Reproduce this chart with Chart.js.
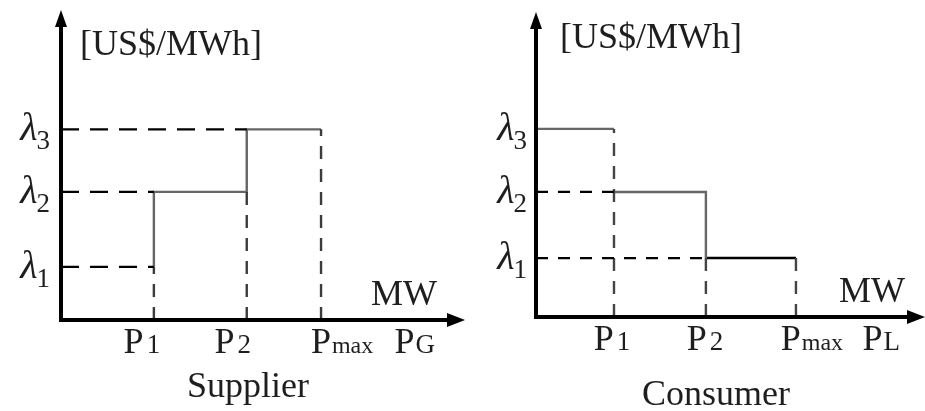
<!DOCTYPE html>
<html><head><meta charset="utf-8">
<script src="https://cdn.jsdelivr.net/npm/chart.js@4"></script>
<style>
html,body{margin:0;padding:0;background:#fff;width:925px;height:411px;overflow:hidden;position:relative}
canvas{position:absolute;top:0}
#c1{left:0}
#c2{left:460px}
</style></head><body>
<canvas id="c1" width="470" height="411"></canvas>
<canvas id="c2" width="465" height="411"></canvas>
<script>
// ---- data (relative units) ----
const supplierQuantities = [1.0, 2.0, 2.8];     // P1, P2, Pmax
const supplierPrices     = [10.3, 24.8, 36.9];  // λ1, λ2, λ3
const consumerQuantities = [0.84, 1.83, 2.8];   // P1, P2, Pmax
const consumerPrices     = [11.6, 24.6, 37.0];  // λ1, λ2, λ3
const quantityTickLabels = ['P_1', 'P_2', 'P_max'];
const priceTickLabels    = ['λ_1', 'λ_2', 'λ_3'];
const supplierAxisName = 'P_G';
const consumerAxisName = 'P_L';
const priceUnit = '[US$/MWh]';
const quantityUnit = 'MW';
const supplierTitle = 'Supplier';
const consumerTitle = 'Consumer';
const supplierXMax = 4.35, consumerXMax = 4.19, priceMax = 60;

const GAP = (x) => ({x: x, y: null});
const pt = (x, y) => ({x, y});

function drawSubText(ctx, label, x, y, align, f) {
  const parts = label.split('_');
  const base = parts[0], sub = parts[1];
  ctx.font = f.main; const wb = ctx.measureText(base).width;
  let ws = 0;
  if (sub) { ctx.font = f.sub; ws = ctx.measureText(sub).width; }
  const gap = sub ? f.gap : 0;
  const total = wb + gap + ws;
  const x0 = align === 'center' ? x - total / 2 : (align === 'right' ? x - total : x);
  ctx.textAlign = 'left'; ctx.textBaseline = 'alphabetic';
  ctx.font = f.main; ctx.fillText(base, x0, y);
  if (sub) { ctx.font = f.sub; ctx.fillText(sub, x0 + wb + gap, y + f.dy); }
}

const diagramPlugin = {
  id: 'diagram',
  afterDatasetsDraw(chart, args, o) {
    const ctx = chart.ctx, a = chart.chartArea;
    const xs = chart.scales.x, ys = chart.scales.y;
    ctx.save();
    // axes with arrows
    ctx.strokeStyle = '#000'; ctx.fillStyle = '#000'; ctx.lineWidth = 4;
    ctx.beginPath();
    ctx.moveTo(a.left, a.top + 8); ctx.lineTo(a.left, a.bottom);
    ctx.lineTo(a.right - 8, a.bottom);
    ctx.stroke();
    ctx.beginPath();
    ctx.moveTo(a.left, a.top); ctx.lineTo(a.left - 6, a.top + 17); ctx.lineTo(a.left + 6, a.top + 17); ctx.closePath(); ctx.fill();
    ctx.beginPath();
    ctx.moveTo(a.right, a.bottom); ctx.lineTo(a.right - 18, a.bottom - 7); ctx.lineTo(a.right - 18, a.bottom + 7); ctx.closePath(); ctx.fill();

    ctx.fillStyle = '#1e1e1e';
    const fx = {main: '36px "Liberation Serif"', sub: '27px "Liberation Serif"', gap: 3, dy: 0};
    const fxm = {main: '36px "Liberation Serif"', sub: '24px "Liberation Serif"', gap: 1, dy: 0};
    o.xValues.forEach((v, i) => {
      const lab = o.xLabels[i];
      drawSubText(ctx, lab, xs.getPixelForValue(v) + o.xOffsets[i], a.bottom + 33, 'center', lab.indexOf('max') >= 0 ? fxm : fx);
    });
    const fy = {main: 'italic 40px "Liberation Serif"', sub: '27px "Liberation Serif"', gap: -1, dy: 9};
    o.yValues.forEach((v, i) => {
      drawSubText(ctx, o.yLabels[i], a.left - o.yGap, ys.getPixelForValue(v) + 11, 'right', fy);
    });
    const plain = {main: '36px "Liberation Serif"', sub: '27px "Liberation Serif"', gap: 1, dy: 0};
    drawSubText(ctx, o.axisName, a.right - o.axisNameRight, a.bottom + 33, 'right', plain);
    drawSubText(ctx, o.unitX, a.right - o.unitXRight, a.bottom - 15, 'right', plain);
    drawSubText(ctx, o.unitY, a.left + o.unitYLeft, a.top + o.unitYBase, 'left', plain);
    drawSubText(ctx, o.title, o.titleX, o.titleY, 'center', plain);
    ctx.restore();
  }
};

function lineDs(data, color, width, dash) {
  return {data, borderColor: color, borderWidth: width, borderDash: dash || [],
    pointRadius: 0, fill: false, tension: 0, spanGaps: false, borderCapStyle: 'butt'};
}

function makeChart(id, datasets, xMax, pad, plug) {
  return new Chart(document.getElementById(id), {
    type: 'line',
    data: {datasets},
    options: {
      responsive: false, animation: false, devicePixelRatio: 1,
      layout: {padding: pad},
      plugins: {legend: {display: false}, tooltip: {enabled: false}, diagram: plug},
      scales: {
        x: {type: 'linear', min: 0, max: xMax, display: false},
        y: {type: 'linear', min: 0, max: priceMax, display: false}
      }
    },
    plugins: [diagramPlugin]
  });
}

// ---- supplier ----
(function () {
  const [p1, p2, pm] = supplierQuantities, [l1, l2, l3] = supplierPrices;
  const solid = [pt(p1, l1), pt(p1, l2), pt(p2, l2), pt(p2, l3), pt(pm, l3)];
  const hDash = [pt(0, l1), pt(p1, l1), GAP(p1), pt(0, l2), pt(p1, l2), GAP(p1), pt(0, l3), pt(p2, l3)];
  const vDash = [pt(p1, 0), pt(p1, l1), GAP(p1), pt(p2, 0), pt(p2, l2), GAP(p2), pt(pm, 0), pt(pm, l3)];
  makeChart('c1', [
    lineDs(hDash, '#000', 2.2, [18, 11]),
    lineDs(vDash, '#3c3c3c', 2.4, [13, 10]),
    lineDs(solid, '#666', 2.4)
  ], supplierXMax, {left: 61, right: 5, top: 10, bottom: 91}, {
    xValues: supplierQuantities, xLabels: quantityTickLabels, xOffsets: [-12, -14, 21],
    yValues: supplierPrices, yLabels: priceTickLabels, yGap: 11,
    axisName: supplierAxisName, axisNameRight: 30,
    unitX: quantityUnit, unitXRight: 28,
    unitY: priceUnit, unitYLeft: 19, unitYBase: 45,
    title: supplierTitle, titleX: 248, titleY: 397
  });
})();

// ---- consumer ----
(function () {
  const [p1, p2, pm] = consumerQuantities, [l1, l2, l3] = consumerPrices;
  const solidGray = [pt(0, l3), pt(p1, l3), GAP(p1), pt(p1, l2), pt(p2, l2), pt(p2, l1)];
  const solidBlack = [pt(p2, l1), pt(pm, l1)];
  const hDash = [pt(0, l2), pt(p1, l2), GAP(p1), pt(0, l1), pt(p2, l1)];
  const vDash = [pt(p1, 0), pt(p1, l3), GAP(p1), pt(p2, 0), pt(p2, l1), GAP(p2), pt(pm, 0), pt(pm, l1)];
  makeChart('c2', [
    lineDs(hDash, '#000', 2.2, [12, 10]),
    lineDs(vDash, '#444', 2.4, [13, 10]),
    lineDs(solidGray, '#666', 2.4),
    lineDs(solidBlack, '#000', 2.6)
  ], consumerXMax, {left: 76, right: 0, top: 12, bottom: 94}, {
    xValues: consumerQuantities, xLabels: quantityTickLabels, xOffsets: [-2, -1, 16],
    yValues: consumerPrices, yLabels: priceTickLabels, yGap: 9,
    axisName: consumerAxisName, axisNameRight: 25,
    unitX: quantityUnit, unitXRight: 20,
    unitY: priceUnit, unitYLeft: 24, unitYBase: 36,
    title: consumerTitle, titleX: 256, titleY: 405
  });
})();
</script>
</body></html>
